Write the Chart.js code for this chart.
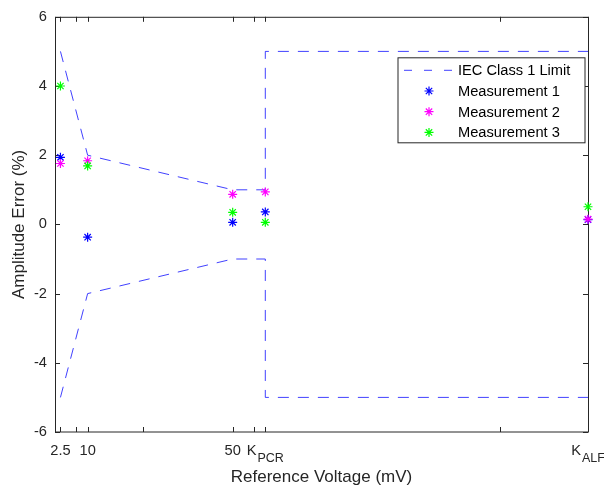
<!DOCTYPE html>
<html>
<head>
<meta charset="utf-8">
<script src="https://cdn.jsdelivr.net/npm/chart.js@4"></script>
<style>
    body { margin: 0; background: #fff; }
    canvas { display: block; }
</style>
</head>
<body>
<canvas id="grafico" width="604" height="493"></canvas>
<script>
const K_PCR = 59
const K_ALF = 148

// eixo x
let xTicks = [1, 2.5, 6.8, 10, 25.4, 50, 56, K_PCR, 123.6, K_ALF]
let xTickLabels = ['', '2.5', '', '10', '', '50', '', ['K', 'PCR'], '', ['K', 'ALF']]
let yTicks = [-6, -4, -2, 0, 2, 4, 6]

// limite IEC classe 1
let limitX = [2.5, 10, 50, K_PCR, K_PCR, K_ALF]
let limitUpper = [5, 2, 1, 1, 5, 5]
let limitLower = [-5, -2, -1, -1, -5, -5]

// medicoes
let measX = [2.5, 10, 50, K_PCR, K_ALF]
let meas1 = [1.94, -0.37, 0.06, 0.36, 0.14]
let meas2 = [1.76, 1.84, 0.87, 0.94, 0.15]
let meas3 = [4.0, 1.69, 0.35, 0.06, 0.51]

const fonte = "'Liberation Sans', Arial, sans-serif"
const cinza = '#262626'
const estiloPonto = { pointStyle: 'star', radius: 4.5, borderWidth: 1.2 }

const pontos = (xs, ys) => xs.map((x, i) => ({ x: x, y: ys[i] }))

let limitPts = pontos(limitX, limitUpper)
    .concat([{ x: K_ALF, y: null }])
    .concat(pontos(limitX, limitLower))

const estrela = (label, cor, ys, ordem) => ({
    label: label,
    data: pontos(measX, ys),
    pointStyle: 'star',
    pointRadius: estiloPonto.radius,
    pointHoverRadius: estiloPonto.radius,
    pointBorderWidth: estiloPonto.borderWidth,
    borderColor: cor,
    backgroundColor: cor,
    showLine: false,
    clip: false,
    order: ordem
})

// caixa, ticks para dentro e rotulos do eixo x (antes dos dados), legenda (depois)
const moldura = {
    id: 'moldura',
    beforeDatasetsDraw(chart) {
        const ctx = chart.ctx
        const a = chart.chartArea
        const sx = chart.scales.x
        const sy = chart.scales.y
        ctx.save()
        ctx.strokeStyle = cinza
        ctx.lineWidth = 1
        ctx.beginPath()
        xTicks.forEach(v => {
            const px = Math.round(sx.getPixelForValue(v)) + 0.5
            ctx.moveTo(px, a.bottom); ctx.lineTo(px, a.bottom - 5)
            ctx.moveTo(px, a.top); ctx.lineTo(px, a.top + 5)
        })
        yTicks.forEach(v => {
            const py = Math.round(sy.getPixelForValue(v)) + 0.5
            ctx.moveTo(a.left, py); ctx.lineTo(a.left + 5, py)
            ctx.moveTo(a.right, py); ctx.lineTo(a.right - 5, py)
        })
        ctx.stroke()
        ctx.beginPath()
        ctx.moveTo(a.left + 0.5, a.bottom)
        ctx.lineTo(a.left + 0.5, a.top + 0.5)
        ctx.lineTo(a.right + 0.5, a.top + 0.5)
        ctx.lineTo(a.right + 0.5, a.bottom)
        ctx.stroke()
        ctx.beginPath()
        ctx.moveTo(a.left, a.bottom)
        ctx.lineTo(a.right + 1, a.bottom)
        ctx.stroke()

        // rotulos x
        ctx.fillStyle = cinza
        ctx.textBaseline = 'alphabetic'
        const base = a.bottom + 23
        xTickLabels.forEach((lab, i) => {
            if (!lab) return
            const px = sx.getPixelForValue(xTicks[i])
            if (Array.isArray(lab)) {
                ctx.font = '14.67px ' + fonte
                const w1 = ctx.measureText(lab[0]).width
                ctx.font = '12.5px ' + fonte
                const w2 = ctx.measureText(lab[1]).width
                let x0 = px - (w1 + 1 + w2) / 2
                ctx.textAlign = 'left'
                ctx.font = '14.67px ' + fonte
                ctx.fillText(lab[0], x0, base)
                ctx.font = '12.5px ' + fonte
                ctx.fillText(lab[1], x0 + w1 + 1, base + 7)
            } else {
                ctx.font = '14.67px ' + fonte
                ctx.textAlign = 'center'
                ctx.fillText(lab, px, base)
            }
        })
        ctx.restore()
    },
    afterDraw(chart) {
        const ctx = chart.ctx
        const a = chart.chartArea
        ctx.save()
        const lx = a.right - 190, ly = a.top + 41, lw = 187, lh = 85
        ctx.fillStyle = '#fff'
        ctx.fillRect(lx, ly, lw, lh)
        ctx.strokeStyle = cinza
        ctx.lineWidth = 1
        ctx.strokeRect(lx, ly, lw, lh)
        ctx.font = '14.67px ' + fonte
        ctx.textAlign = 'left'
        ctx.textBaseline = 'middle'
        chart.data.datasets.forEach((ds, i) => {
            const cy = ly + 12.5 + i * 20.7
            ctx.save()
            ctx.strokeStyle = ds.borderColor
            if (ds.showLine) {
                ctx.lineWidth = ds.borderWidth
                ctx.setLineDash([8, 12])
                ctx.beginPath()
                ctx.moveTo(lx + 6, cy)
                ctx.lineTo(lx + 56, cy)
                ctx.stroke()
            } else {
                ctx.lineWidth = estiloPonto.borderWidth
                Chart.helpers.drawPoint(ctx, estiloPonto, lx + 31, cy)
            }
            ctx.restore()
            ctx.fillStyle = '#000'
            ctx.fillText(ds.label, lx + 60, cy + 1)
        })
        ctx.restore()
    }
}

let grafico = new Chart(document.getElementById('grafico'), {
    type: 'scatter',
    data: {
        datasets: [
            {
                label: 'IEC Class 1 Limit',
                data: limitPts,
                showLine: true,
                spanGaps: false,
                borderColor: 'rgba(0, 0, 255, 0.75)',
                borderWidth: 1,
                borderDash: [11, 9],
                pointRadius: 0,
                pointHoverRadius: 0,
                fill: false,
                clip: false,
                order: 4
            },
            estrela('Measurement 1', '#0000ff', meas1, 3),
            estrela('Measurement 2', '#ff00ff', meas2, 2),
            estrela('Measurement 3', '#00ff00', meas3, 1)
        ]
    },
    options: {
        responsive: false,
        animation: false,
        events: [],
        layout: { padding: { top: 14, right: 16, left: 0, bottom: 0 } },
        plugins: {
            legend: { display: false },
            tooltip: { enabled: false }
        },
        scales: {
            x: {
                type: 'linear',
                min: 1,
                max: K_ALF,
                afterBuildTicks: s => { s.ticks = xTicks.map(v => ({ value: v })) },
                afterFit: s => { s.height = 61 },
                ticks: { display: false },
                grid: { display: false },
                border: { display: false },
                title: {
                    display: true,
                    text: 'Reference Voltage (mV)',
                    color: cinza,
                    font: { family: fonte, size: 17 },
                    padding: { top: 0, bottom: 5 }
                }
            },
            y: {
                min: -6,
                max: 6,
                afterBuildTicks: s => { s.ticks = yTicks.map(v => ({ value: v })) },
                afterFit: s => { s.width = 55 },
                ticks: {
                    color: cinza,
                    padding: 8,
                    font: { family: fonte, size: 14.67 }
                },
                grid: { display: false, drawTicks: false },
                border: { display: false },
                title: {
                    display: true,
                    text: 'Amplitude Error (%)',
                    color: cinza,
                    font: { family: fonte, size: 17 },
                    padding: { top: 9, bottom: 0 }
                }
            }
        }
    },
    plugins: [moldura]
});
</script>
</body>
</html>
